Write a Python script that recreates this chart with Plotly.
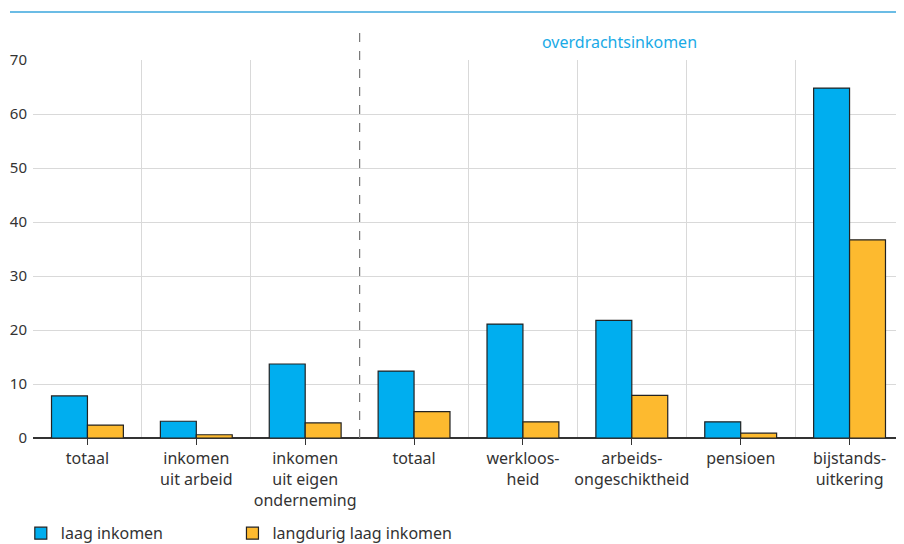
import plotly.graph_objects as go

categories = ["totaal", "inkomen<br>uit arbeid", "inkomen<br>uit eigen<br>onderneming", "totaal",
              "werkloos-<br>heid", "arbeids-<br>ongeschiktheid", "pensioen", "bijstands-<br>uitkering"]
laag = [7.8, 3.1, 13.7, 12.4, 21.1, 21.8, 3.0, 64.8]
langdurig = [2.4, 0.6, 2.8, 4.9, 3.0, 7.9, 0.9, 36.7]
y_ticks = [0, 10, 20, 30, 40, 50, 60, 70]

FONT = "Noto Sans"
x_pos = list(range(len(categories)))
SPLIT = 2.5  # between the first three groups and the overdrachtsinkomen groups

fig = go.Figure()
fig.add_trace(go.Bar(x=x_pos, y=laag, name="laag inkomen", legend="legend",
                     marker=dict(color="#00AEEF", line=dict(color="#222222", width=1.2))))
fig.add_trace(go.Bar(x=x_pos, y=langdurig, name="langdurig laag inkomen", legend="legend2",
                     marker=dict(color="#FDBA2F", line=dict(color="#222222", width=1.2))))

# grid between categories, skipping the split which gets a dashed line
bounds = [i - 0.5 for i in range(len(categories) + 1) if i - 0.5 != SPLIT]

legend_style = dict(orientation="h", xanchor="left", y=-0.297, yanchor="bottom",
                    font=dict(size=16, color="#333333"), itemwidth=30,
                    bgcolor="rgba(0,0,0,0)")

# page body has an 8px margin, so the figure is sized 8px smaller
fig.update_layout(
    width=896, height=536,
    margin=dict(l=25, r=0, t=52, b=106, autoexpand=False),
    plot_bgcolor="white", paper_bgcolor="white",
    barmode="group", bargap=0.34, bargroupgap=0,
    font=dict(family=FONT, size=16, color="#333333"),
    showlegend=True,
    legend=dict(x=-0.014, **legend_style),
    legend2=dict(x=0.229, **legend_style),
    xaxis=dict(range=[-0.5, len(categories) - 0.5], tickvals=x_pos, ticktext=categories,
               showgrid=False, zeroline=False, showline=False, automargin=False,
               ticks="outside", ticklen=6, tickcolor="#333333",
               tickfont=dict(size=16, color="#333333"),
               minor=dict(tickvals=bounds, showgrid=True, gridcolor="#D9D9D9", gridwidth=1, ticks="")),
    yaxis=dict(range=[0, 70], tickvals=y_ticks, showgrid=True, gridcolor="#D9D9D9", gridwidth=1,
               zeroline=True, zerolinecolor="#333333", zerolinewidth=1.5, automargin=False,
               tickfont=dict(size=15, color="#333333"), ticks="", ticklabelstandoff=5),
)

# blue rule on top
fig.add_shape(type="line", xref="paper", yref="paper", x0=-0.0264, x1=1, y0=1.127, y1=1.127,
              line=dict(color="#3AA6DD", width=1.5))
# dashed split line
fig.add_shape(type="line", xref="x", yref="paper", x0=SPLIT, x1=SPLIT, y0=0, y1=1.079,
              line=dict(color="#777777", width=1.2, dash="dash"))
fig.add_annotation(text="overdrachtsinkomen", xref="x", yref="paper", x=4.89, y=1.082,
                   showarrow=False, font=dict(size=16, color="#1AAAE6"))

fig.write_html("out.html")
